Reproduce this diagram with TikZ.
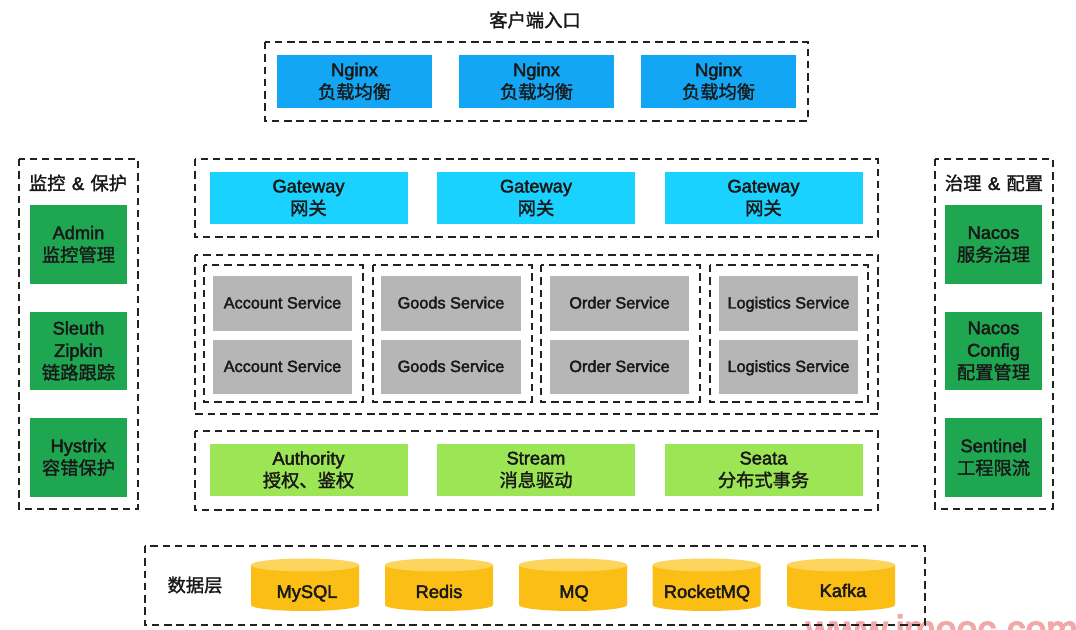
\documentclass[tikz,border=0pt]{standalone}
\usepackage{fontspec}
\setmainfont{Liberation Sans}[FakeBold=2.4]
\newfontfamily\cjkf{Noto Sans CJK SC}[FakeBold=1.6]
\newfontfamily\latinwm{Liberation Sans}[FakeBold=4]
\newcommand{\cn}[1]{{\cjkf #1}}
\definecolor{cdash}{HTML}{222222}
\definecolor{cnginx}{HTML}{13A6F4}
\definecolor{cgate}{HTML}{1AD2FF}
\definecolor{cserv}{HTML}{B6B6B6}
\definecolor{clight}{HTML}{9CE655}
\definecolor{cdark}{HTML}{1FA650}
\definecolor{cyel}{HTML}{FBBE14}
\definecolor{cyeltop}{HTML}{FDD45C}
\definecolor{cwm}{HTML}{F2A8A8}
\tikzset{
 x=0.75pt,y=-0.75pt,
 group/.style={draw=cdash,line width=0.95pt,dash pattern=on 5.6pt off 3.6pt},
 boxbase/.style={anchor=center,inner sep=0pt,align=center,font=\fontsize{13.7}{16.8}\selectfont,text=black!90},
 nginxbox/.style={boxbase,fill=cnginx,minimum width=116pt,minimum height=40pt},
 gatebox/.style={boxbase,fill=cgate,minimum width=148.5pt,minimum height=39pt},
 servbox/.style={boxbase,fill=cserv,minimum width=104.5pt,minimum height=41pt,font=\fontsize{12.2}{14}\selectfont,text height=10.5pt,text depth=3pt},
 lightbox/.style={boxbase,fill=clight,minimum width=148.5pt,minimum height=39pt},
 darkbox/.style={boxbase,fill=cdark,minimum width=73pt,minimum height=59pt},
 dbody/.style={fill=cyel},
 dtop/.style={fill=cyeltop},
 lab/.style={inner sep=0pt,font=\fontsize{13.7}{16.8}\selectfont,text=black!90},
 dblab/.style={lab,anchor=base}
}
\newcommand{\dbcyl}[1]{%
 \fill[dbody] (#1-54,565) -- (#1-54,605) arc[start angle=180,end angle=360,x radius=54,y radius=-6] -- (#1+54,565) -- cycle;
 \fill[dtop] (#1,565) ellipse[x radius=54,y radius=6.5];
}
\begin{document}
\begin{tikzpicture}
\useasboundingbox (0,0) rectangle (1076,630);
\fill[white] (0,0) rectangle (1076,630);
\node[anchor=base east,inner sep=0pt,text=cwm,font=\latinwm\fontsize{28.2}{30}\selectfont] (wm) at (1078,642) {www.imooc.com};
% dashed groups
\draw[group] (265,42) rectangle (808,121);
\draw[group] (195,159) rectangle (878,237);
\draw[group] (195,255) rectangle (878,414);
\draw[group] (204,265) rectangle (363,402);
\draw[group] (373,265) rectangle (532,402);
\draw[group] (541,265) rectangle (700,402);
\draw[group] (710,265) rectangle (868,402);
\draw[group] (195,431) rectangle (878,510);
\draw[group] (19,159) rectangle (138,509);
\draw[group] (935,159) rectangle (1053,509);
\draw[group] (145,546) rectangle (925,625);
% titles
\node[lab] (ttop) at (535,20) {\cn{客户端入口}};
\node[lab] (tleft) at (78,183) {\cn{监控}\ \kern1pt\&\ \kern1pt\cn{保护}};
\node[lab] (tright) at (994,183) {\cn{治理}\ \kern1pt\&\ \kern1pt\cn{配置}};
\node[lab] (tdata) at (195,585) {\cn{数据层}};
% nginx
\node[nginxbox] (n1) at (354.5,81.5) {Nginx\\\cn{负载均衡}};
\node[nginxbox] (n2) at (536.5,81.5) {Nginx\\\cn{负载均衡}};
\node[nginxbox] (n3) at (718.5,81.5) {Nginx\\\cn{负载均衡}};
% gateway
\node[gatebox] (g1) at (308.5,198) {Gateway\\\cn{网关}};
\node[gatebox] (g2) at (536,198) {Gateway\\\cn{网关}};
\node[gatebox] (g3) at (763.5,198) {Gateway\\\cn{网关}};
% services
\node[servbox] (s11) at (282.5,303.5) {Account Service};
\node[servbox] (s12) at (282.5,367) {Account Service};
\node[servbox] (s21) at (451,303.5) {Goods Service};
\node[servbox] (s22) at (451,367) {Goods Service};
\node[servbox] (s31) at (619.5,303.5) {Order Service};
\node[servbox] (s32) at (619.5,367) {Order Service};
\node[servbox] (s41) at (788.5,303.5) {Logistics Service};
\node[servbox] (s42) at (788.5,367) {Logistics Service};
% support
\node[lightbox] (a1) at (308.5,470) {Authority\\\cn{授权、鉴权}};
\node[lightbox] (a2) at (536,470) {Stream\\\cn{消息驱动}};
\node[lightbox] (a3) at (763.5,470) {Seata\\\cn{分布式事务}};
% left
\node[darkbox] (l1) at (78.5,244.5) {Admin\\\cn{监控管理}};
\node[darkbox] (l2) at (78.5,351) {Sleuth\\Zipkin\\\cn{链路跟踪}};
\node[darkbox] (l3) at (78.5,457.5) {Hystrix\\\cn{容错保护}};
% right
\node[darkbox] (r1) at (993.5,244.5) {Nacos\\\cn{服务治理}};
\node[darkbox] (r2) at (993.5,351) {Nacos\\Config\\\cn{配置管理}};
\node[darkbox] (r3) at (993.5,457.5) {Sentinel\\\cn{工程限流}};
% data
\dbcyl{305}\dbcyl{439}\dbcyl{573}\dbcyl{706.5}\dbcyl{841}
\node[dblab] (dl1) at (307,598) {MySQL};
\node[dblab] (dl2) at (439,598) {Redis};
\node[dblab] (dl3) at (574,598) {MQ};
\node[dblab] (dl4) at (707,598) {RocketMQ};
\node[dblab] (dl5) at (843,597) {Kafka};
\end{tikzpicture}
\end{document}
